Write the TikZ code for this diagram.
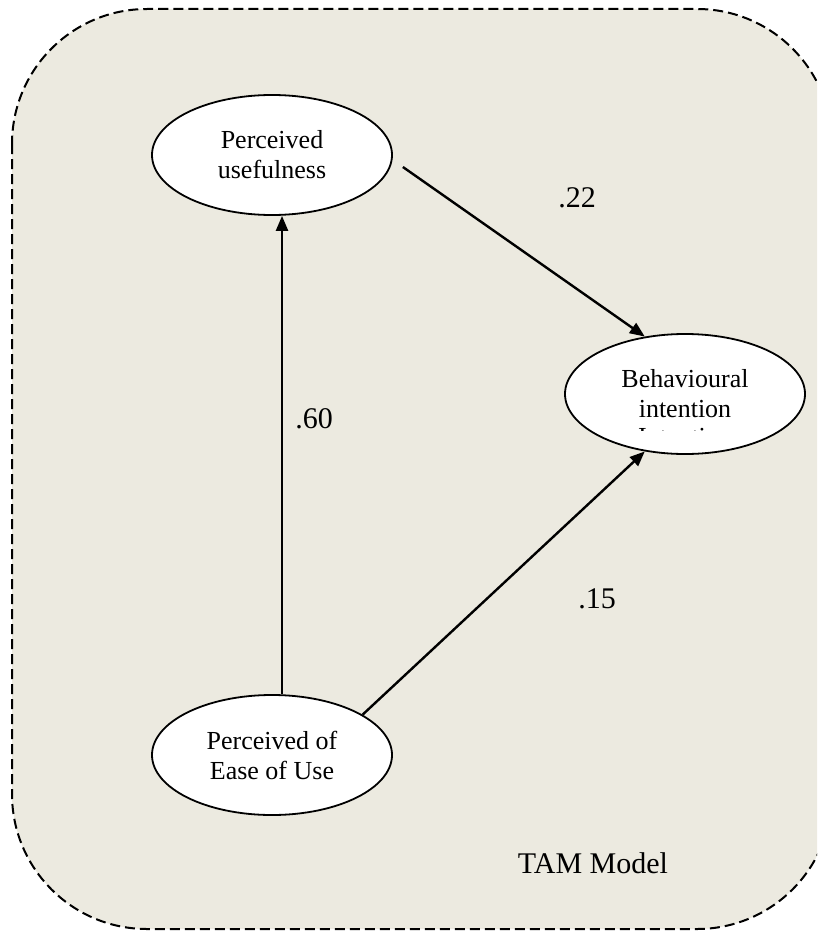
\documentclass[tikz,border=0pt]{standalone}
\usepackage{fontspec}
\setmainfont{Liberation Serif}
\usetikzlibrary{shapes.geometric,arrows.meta}
\definecolor{panelfill}{RGB}{236,234,224}
\begin{document}
\begin{tikzpicture}[x=1pt,y=-1pt,
  construct/.style={ellipse,draw=black,line width=1.8pt,fill=white,
    minimum width=240pt,minimum height=120pt,inner sep=0pt,align=center,
    font=\fontsize{26}{30}\selectfont},
  path/.style={line width=2.4pt,-{Triangle[length=15pt,width=12pt]}},
  coef/.style={font=\fontsize{30}{36}\selectfont,inner sep=0pt,anchor=base}]
\useasboundingbox (0,0) rectangle (817,931);
% dashed rounded panel, running past the right edge
\begin{scope}
  \clip (0,0) rectangle (817,931);
  \draw[fill=panelfill,line width=2pt,dash pattern=on 10pt off 5pt,rounded corners=135pt]
    (12,9) rectangle (832,929);
\end{scope}
% constructs
\node[construct] (pu) at (272,155) {Perceived\\usefulness};
\node[construct] (bi) at (685,394) {Behavioural\\intention};
\node[construct] (peou) at (272,755) {Perceived of\\Ease of Use};
% clipped third line inside the intention ellipse
\begin{scope}
  \clip (560,420) rectangle (810,430);
  \node[font=\fontsize{26}{30}\selectfont,inner sep=0pt,anchor=base] (bitail) at (685,445.5) {Intention};
\end{scope}
% paths
\draw[path] ([xshift=10pt]peou.north) -- ([xshift=10pt]pu.south);
\draw[path] ([shift={(10,12)}]pu.east) -- (bi.125);
\draw[path] (peou.24) -- (bi.235);
% coefficients
\node[coef] (c22) at (577,207) {.22};
\node[coef] (c60) at (314,428) {.60};
\node[coef] (c15) at (597,608) {.15};
\node[coef] (tam) at (593,873) {TAM Model};
\end{tikzpicture}
\end{document}
